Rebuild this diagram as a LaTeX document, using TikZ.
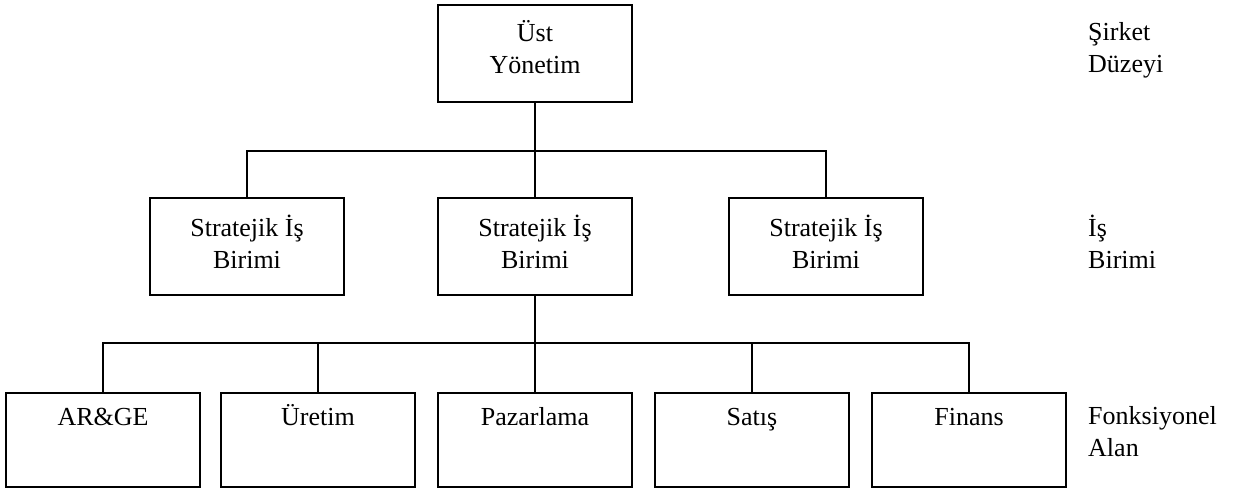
\documentclass[tikz,border=0pt]{standalone}
\usepackage{fontspec}
\setmainfont{Liberation Serif}
\begin{document}
\begin{tikzpicture}[x=1pt,y=-1pt,
  unit/.style={draw, line width=2pt, inner sep=0pt, minimum width=194pt},
  upper/.style={unit, minimum height=97pt},
  lower/.style={unit, minimum height=94pt},
  caption/.style={inner sep=0pt, anchor=base, align=center,
    font=\fontsize{26}{32}\selectfont},
  levelname/.style={caption, anchor=base west, align=left},
  link/.style={line width=2pt}]
\useasboundingbox (0,0) rectangle (1234,488);

% corporate level (multi-line captions sit on the baseline of their last line)
\node[upper] (top) at (535,53.5) {};
\node[caption] (topt) at (535,73) {Üst\\Yönetim};

% business units
\node[upper] (sbu1) at (247,246.5) {};
\node[upper] (sbu2) at (535,246.5) {};
\node[upper] (sbu3) at (826,246.5) {};
\node[caption] (sbu1t) at (247,268) {Stratejik İş\\Birimi};
\node[caption] (sbu2t) at (535,268) {Stratejik İş\\Birimi};
\node[caption] (sbu3t) at (826,268) {Stratejik İş\\Birimi};

% functional areas
\node[lower] (rd)  at (103,440) {};
\node[lower] (pr)  at (318,440) {};
\node[lower] (mk)  at (535,440) {};
\node[lower] (sl)  at (752,440) {};
\node[lower] (fn)  at (969,440) {};
\node[caption] (rdt) at (103,425) {AR\&GE};
\node[caption] (prt) at (318,425) {Üretim};
\node[caption] (mkt) at (535,425) {Pazarlama};
\node[caption] (slt) at (752,425) {Satış};
\node[caption] (fnt) at (969,425) {Finans};

% level names
\node[levelname] (l1) at (1088,72) {Şirket\\Düzeyi};
\node[levelname] (l2) at (1088,268) {İş\\Birimi};
\node[levelname] (l3) at (1088,456) {Fonksiyonel\\Alan};

% connectors
\coordinate (bus1) at (535,151);
\coordinate (bus2) at (535,343);
\draw[link] (top.south) -- (bus1);
\draw[link] (sbu1.north) |- (bus1) -| (sbu3.north);
\draw[link] (bus1) -- (sbu2.north);
\draw[link] (sbu2.south) -- (bus2);
\draw[link] (rd.north) |- (bus2) -| (fn.north);
\draw[link] (bus2) -- (mk.north);
\draw[link] (pr.north) -- (pr.north |- bus2);
\draw[link] (sl.north) -- (sl.north |- bus2);
\end{tikzpicture}
\end{document}
